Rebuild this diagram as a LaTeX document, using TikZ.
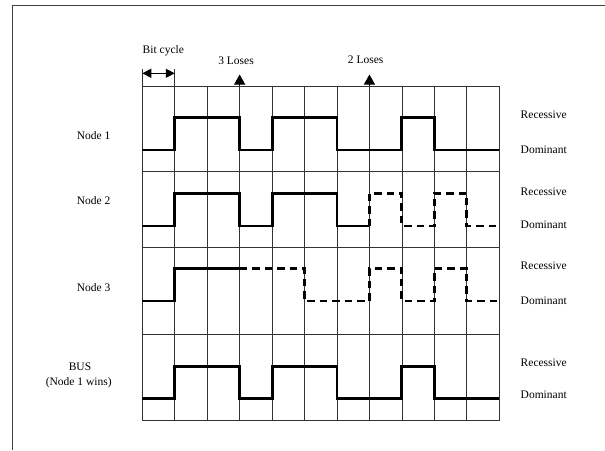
\documentclass[tikz,border=0pt]{standalone}
\usepackage{fontspec}
\setmainfont{Liberation Serif}
\usetikzlibrary{arrows.meta}

\begin{document}
\begin{tikzpicture}[x=1pt,y=-1pt,line width=.8pt,font=\fontsize{11.5}{13}\selectfont,
  grid/.style={draw=black!80,line width=.8pt},
  sig/.style={line width=2.9pt},
  sigdash/.style={line width=2.9pt,dash pattern=on 7.5pt off 5pt},
  lose/.style={-{Triangle[length=10pt,width=11pt]},line width=.8pt}]
\useasboundingbox (0,0) rectangle (605,450);
% frame
\draw[black!75,line width=1.2pt] (12.3,450)--(12.3,5.5)--(605,5.5);
% grid
\foreach \k in {0,...,11}
  \draw[grid] ({142.3+32.45*\k},86)--({142.3+32.45*\k},420.7);
\foreach \y in {86,171.7,247.7,334.3,420.7}
  \draw[grid] (142.3,\y)--(499.25,\y);
% bit cycle
\coordinate (bc1) at (142.3,73.3);
\coordinate (bc2) at (174.75,73.3);
\draw[grid] (142.3,69)--(142.3,86);
\draw[grid] (174.75,69)--(174.75,86);
\draw[{Triangle[length=9pt,width=9pt]}-{Triangle[length=9pt,width=9pt]},line width=1.4pt] (bc1)--(bc2);
\node (bit) at (163.3,51) {Bit cycle};
% loses
\coordinate (l3) at (239.65,86);
\coordinate (l2) at (369.45,86);
\draw[lose] (l3)--++(0,-11.5);
\draw[lose] (l2)--++(0,-11.5);
\node (lose3) at (236,61) {3 Loses};
\node (lose2) at (365.7,60) {2 Loses};
% node 1
\draw[sig] (142.3,150)--(174.75,150)--(174.75,117.7)--(239.65,117.7)--(239.65,150)--(272.1,150)--(272.1,117.7)--(337,117.7)--(337,150)--(401.9,150)--(401.9,117.7)--(434.35,117.7)--(434.35,150)--(499.25,150);
% node 2
\draw[sig] (142.3,226)--(174.75,226)--(174.75,193.3)--(239.65,193.3)--(239.65,226)--(272.1,226)--(272.1,193.3)--(337,193.3)--(337,226)--(369.45,226);
\draw[sigdash] (369.45,226)--(369.45,193.3)--(401.9,193.3)--(401.9,226)--(434.35,226)--(434.35,193.3)--(466.8,193.3)--(466.8,226)--(499.25,226);
% node 3
\draw[sig] (142.3,301)--(174.75,301)--(174.75,268.5)--(239.65,268.5);
\draw[sigdash] (239.65,268.5)--(304.55,268.5)--(304.55,301)--(369.45,301)--(369.45,268.5)--(401.9,268.5)--(401.9,301)--(434.35,301)--(434.35,268.5)--(466.8,268.5)--(466.8,301)--(499.25,301);
% bus
\draw[sig] (142.3,398.3)--(174.75,398.3)--(174.75,366.5)--(239.65,366.5)--(239.65,398.3)--(272.1,398.3)--(272.1,366.5)--(337,366.5)--(337,398.3)--(401.9,398.3)--(401.9,366.5)--(434.35,366.5)--(434.35,398.3)--(499.25,398.3);
% labels
\node (n1) at (93.7,136) {Node 1};
\node (n2) at (93.7,201) {Node 2};
\node (n3) at (93.7,288) {Node 3};
\node (bus) at (80,367) {BUS};
\node (wins) at (78.7,383) {(Node 1 wins)};
\node[anchor=west] (r1) at (517,115) {Recessive};
\node[anchor=west] (d1) at (517,150) {Dominant};
\node[anchor=west] (r2) at (517,191.7) {Recessive};
\node[anchor=west] (d2) at (517,225) {Dominant};
\node[anchor=west] (r3) at (517,265.7) {Recessive};
\node[anchor=west] (d3) at (517,300.7) {Dominant};
\node[anchor=west] (r4) at (517,362.7) {Recessive};
\node[anchor=west] (d4) at (517,395) {Dominant};
\end{tikzpicture}
\end{document}
